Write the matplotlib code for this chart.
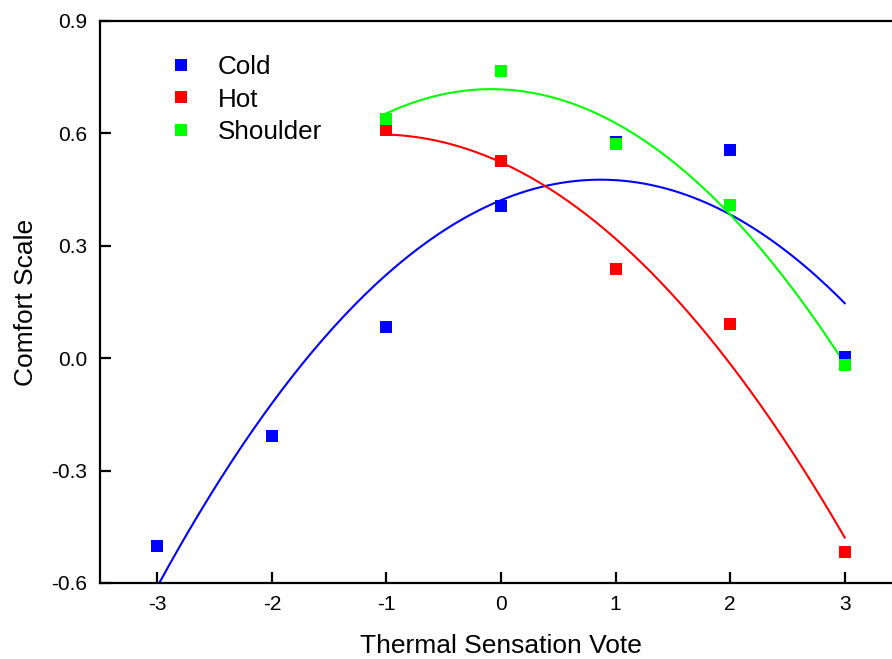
import numpy as np
import matplotlib
matplotlib.use("Agg")
import matplotlib.pyplot as plt

plt.rcParams['font.family'] = ['Liberation Sans', 'DejaVu Sans']

# thermal sensation vote categories
tsv_cold = [-3, -2, -1, 0, 1, 2, 3]
tsv_warm = [-1, 0, 1, 2, 3]

# mean comfort scale per vote
comfort_cold = [-0.50, -0.207, 0.083, 0.407, 0.578, 0.556, 0.003]
comfort_hot = [0.609, 0.526, 0.237, 0.091, -0.518]
comfort_shoulder = [0.638, 0.767, 0.572, 0.408, -0.018]

series = [
    ('Cold', tsv_cold, comfort_cold, '#0000ff'),
    ('Hot', tsv_warm, comfort_hot, '#ff0000'),
    ('Shoulder', tsv_warm, comfort_shoulder, '#00ff00'),
]

W, H = 892, 659
fig = plt.figure(figsize=(W / 100, H / 100), dpi=100)
ax = fig.add_axes([100 / W, 76 / H, 802 / W, 562 / H])

# quadratic fit curves
for name, xs, ys, color in series:
    coef = np.polyfit(xs, ys, 2)
    xf = np.linspace(min(xs), max(xs), 200)
    ax.plot(xf, np.polyval(coef, xf), color=color, lw=1.5, zorder=2)

for name, xs, ys, color in series:
    ax.plot(xs, ys, 's', color=color, ms=8.8, mec=color, mew=0, label=name,
            zorder=3, clip_on=False)

ax.set_xlim(-3.5, 3.5)
ax.set_ylim(-0.6, 0.9)
ax.set_xticks([-3, -2, -1, 0, 1, 2, 3])
ax.set_yticks([-0.6, -0.3, 0.0, 0.3, 0.6, 0.9])
ax.set_yticklabels(['-0.6', '-0.3', '0.0', '0.3', '0.6', '0.9'])
ax.set_xticklabels(['-3', '-2', '-1', '0', '1', '2', '3'])

for s in ax.spines.values():
    s.set_linewidth(1.6)
ax.tick_params(direction='in', length=8, width=1.6, labelsize=15, pad=9,
               top=False, right=False)

ax.set_xlabel('Thermal Sensation Vote', fontsize=19, labelpad=14)
ax.set_ylabel('Comfort Scale', fontsize=19, labelpad=10)

ax.legend(loc='upper left', bbox_to_anchor=(168 / W, 1 - 55 / H),
          bbox_transform=fig.transFigure, frameon=False, fontsize=18.7,
          handlelength=1.0, handletextpad=0.92, labelspacing=0.33,
          borderpad=0, borderaxespad=0, numpoints=1)

fig.savefig('out.png', dpi=100)
